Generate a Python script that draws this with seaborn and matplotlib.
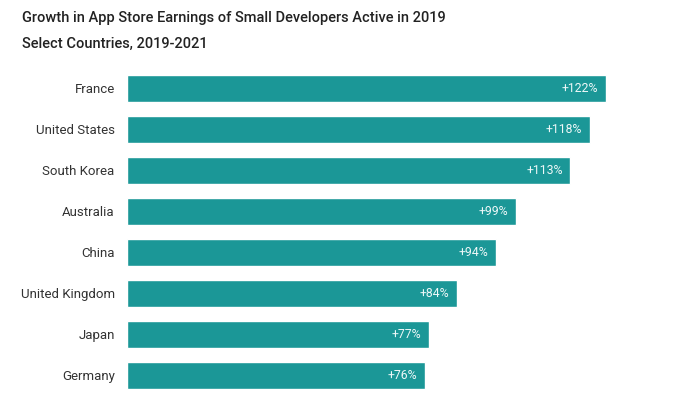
import pandas as pd
import matplotlib.pyplot as plt
import seaborn as sns

countries = ['France', 'United States', 'South Korea', 'Australia', 'China',
             'United Kingdom', 'Japan', 'Germany']
growth = [122, 118, 113, 99, 94, 84, 77, 76]
labels = ['+122%', '+118%', '+113%', '+99%', '+94%', '+84%', '+77%', '+76%']

df = pd.DataFrame({'Country': countries, 'Growth': growth})

sns.set_style('white')
plt.rcParams['font.family'] = ['Roboto', 'DejaVu Sans']

fig = plt.figure(figsize=(6.8, 4), dpi=100)
ax = fig.add_axes([0.187, 0.011, 0.75, 0.82])

sns.barplot(data=df, x='Growth', y='Country', color='#1b9797', saturation=1,
            width=0.66, ax=ax)

for i, (v, lab) in enumerate(zip(growth, labels)):
    ax.text(v - 2.0, i, lab, ha='right', va='center', color='#eef8f8',
            fontsize=8.8)

ax.set_xlim(0, 130)
ax.set_xlabel('')
ax.set_ylabel('')
ax.set_xticks([])
ax.tick_params(axis='y', length=0, pad=9, labelsize=9.5, labelcolor='#333333')
sns.despine(ax=ax, left=True, bottom=True)

fig.text(0.032, 0.955, 'Growth in App Store Earnings of Small Developers Active in 2019',
         fontsize=10.5, fontweight='medium', color='#222222', va='center')
fig.text(0.032, 0.89, 'Select Countries, 2019-2021',
         fontsize=10.5, fontweight='medium', color='#222222', va='center')

fig.savefig('out.png', dpi=100)
